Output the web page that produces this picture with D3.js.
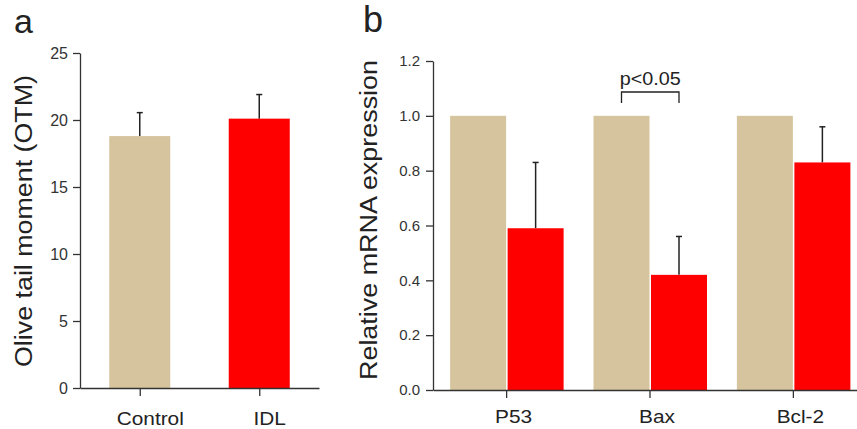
<!DOCTYPE html>
<html>
<head>
<meta charset="utf-8">
<script src="https://cdn.jsdelivr.net/npm/d3@7"></script>
<style>
  body { margin: 0; background: #fff; }
  svg { display: block; font-family: "Liberation Sans", Arial, sans-serif; }
  .axis path, .axis line { stroke: #333; stroke-width: 1.3; }
  .axis text { fill: #333; }
</style>
</head>
<body>
<div id="chart"></div>
<script>
// panel a: comet assay
const groupsA = ["Control", "IDL"];
const otmMeans = [18.8, 20.1];
const otmErrors = [1.75, 1.8];
const yTicksA = [0, 5, 10, 15, 20, 25];

// panel b: qPCR
const genes = ["P53", "Bax", "Bcl-2"];
const controlExpr = [1.0, 1.0, 1.0];
const idlExpr = [0.59, 0.42, 0.83];
const idlErrors = [0.24, 0.14, 0.13];
const yTicksB = [0, 0.2, 0.4, 0.6, 0.8, 1.0, 1.2];
const sigGene = "Bax";
const sigLabel = "p<0.05";

const tan = "#D6C49E";
const red = "#FF0000";

const svg = d3.select("#chart").append("svg")
    .attr("width", 857)
    .attr("height", 429);

// ---------- panel a ----------
const xA = d3.scalePoint().domain(groupsA).range([80, 319]).padding(0.5);
const yA = d3.scaleLinear().domain([0, 25]).range([388, 53]);
const barWA = 61;

const gA = svg.append("g");

gA.selectAll(".errA")
    .data(groupsA)
    .enter().append("g")
    .each(function(d, i) {
        const g = d3.select(this);
        const cx = xA(d);
        g.append("line")
            .attr("x1", cx).attr("x2", cx)
            .attr("y1", yA(otmMeans[i])).attr("y2", yA(otmMeans[i] + otmErrors[i]))
            .attr("stroke", "#222").attr("stroke-width", 1.5);
        g.append("line")
            .attr("x1", cx - 3).attr("x2", cx + 3)
            .attr("y1", yA(otmMeans[i] + otmErrors[i])).attr("y2", yA(otmMeans[i] + otmErrors[i]))
            .attr("stroke", "#222").attr("stroke-width", 1.5);
    });

gA.selectAll(".barA")
    .data(groupsA)
    .enter().append("rect")
    .attr("x", d => xA(d) - barWA / 2)
    .attr("width", barWA)
    .attr("y", (d, i) => yA(otmMeans[i]))
    .attr("height", (d, i) => yA(0) - yA(otmMeans[i]))
    .attr("fill", (d, i) => i === 0 ? tan : red);

gA.append("g")
    .attr("class", "axis")
    .attr("transform", "translate(80,0)")
    .call(d3.axisLeft(yA).tickValues(yTicksA).tickSize(7).tickSizeOuter(0).tickPadding(5))
    .selectAll("text").style("font-size", "16px");

const axA = gA.append("g")
    .attr("class", "axis")
    .attr("transform", "translate(0,388)")
    .call(d3.axisBottom(xA).tickSize(8).tickSizeOuter(0));
axA.selectAll("text")
    .attr("y", 37).attr("dy", null)
    .attr("transform", "translate(10,0) scale(1.19,1)")
    .style("font-size", "17.5px")
    .style("fill", "#222");

gA.append("text")
    .attr("transform", "translate(32,221) rotate(-90)")
    .attr("text-anchor", "middle")
    .attr("textLength", 292)
    .attr("lengthAdjust", "spacingAndGlyphs")
    .style("font-size", "23px")
    .style("fill", "#222")
    .text("Olive tail moment (OTM)");

svg.append("text")
    .attr("x", 14).attr("y", 33)
    .style("font-size", "34px")
    .style("fill", "#222")
    .text("a");

// ---------- panel b ----------
const xB = d3.scalePoint().domain(genes).range([433, 866]).padding(0.51);
const yB = d3.scaleLinear().domain([0, 1.2]).range([390, 61]);
const barWB = 56;

const gB = svg.append("g");

gB.selectAll(".errB")
    .data(genes)
    .enter().append("g")
    .each(function(d, i) {
        const g = d3.select(this);
        const cx = xB(d) + 1.5 + barWB / 2;
        g.append("line")
            .attr("x1", cx).attr("x2", cx)
            .attr("y1", yB(idlExpr[i])).attr("y2", yB(idlExpr[i] + idlErrors[i]))
            .attr("stroke", "#222").attr("stroke-width", 1.5);
        g.append("line")
            .attr("x1", cx - 3).attr("x2", cx + 3)
            .attr("y1", yB(idlExpr[i] + idlErrors[i])).attr("y2", yB(idlExpr[i] + idlErrors[i]))
            .attr("stroke", "#222").attr("stroke-width", 1.5);
    });

gB.selectAll(".ctrlB")
    .data(genes)
    .enter().append("rect")
    .attr("x", d => xB(d) - barWB)
    .attr("width", barWB)
    .attr("y", (d, i) => yB(controlExpr[i]))
    .attr("height", (d, i) => yB(0) - yB(controlExpr[i]))
    .attr("fill", tan);

gB.selectAll(".idlB")
    .data(genes)
    .enter().append("rect")
    .attr("x", d => xB(d) + 1.5)
    .attr("width", barWB)
    .attr("y", (d, i) => yB(idlExpr[i]))
    .attr("height", (d, i) => yB(0) - yB(idlExpr[i]))
    .attr("fill", red);

gB.append("g")
    .attr("class", "axis")
    .attr("transform", "translate(433,0)")
    .call(d3.axisLeft(yB).tickValues(yTicksB).tickFormat(d3.format(".1f")).tickSize(7).tickSizeOuter(0).tickPadding(6))
    .selectAll("text").style("font-size", "15px");

const axB = gB.append("g")
    .attr("class", "axis")
    .attr("transform", "translate(0,390)")
    .call(d3.axisBottom(xB).tickSize(8).tickSizeOuter(0));
axB.selectAll("text")
    .attr("y", 33).attr("dy", null)
    .attr("transform", "translate(7,0) scale(1.19,1)")
    .style("font-size", "17.5px")
    .style("fill", "#222");

// significance bracket
const bx1 = xB(sigGene) - barWB / 2;
const bx2 = xB(sigGene) + 1.5 + barWB / 2;
const by = 92;
gB.append("path")
    .attr("d", `M${bx1},${by + 11}V${by}H${bx2}V${by + 11}`)
    .attr("fill", "none")
    .attr("stroke", "#222")
    .attr("stroke-width", 1.3);
gB.append("text")
    .attr("transform", `translate(${(bx1 + bx2) / 2},85) scale(1.1,1)`)
    .attr("text-anchor", "middle")
    .style("font-size", "18px")
    .style("fill", "#222")
    .text(sigLabel);

gB.append("text")
    .attr("transform", "translate(377,220) rotate(-90)")
    .attr("text-anchor", "middle")
    .attr("textLength", 320)
    .attr("lengthAdjust", "spacingAndGlyphs")
    .style("font-size", "23px")
    .style("fill", "#222")
    .text("Relative mRNA expression");

svg.append("text")
    .attr("x", 363).attr("y", 32)
    .style("font-size", "36px")
    .style("fill", "#222")
    .text("b");
</script>
</body>
</html>
